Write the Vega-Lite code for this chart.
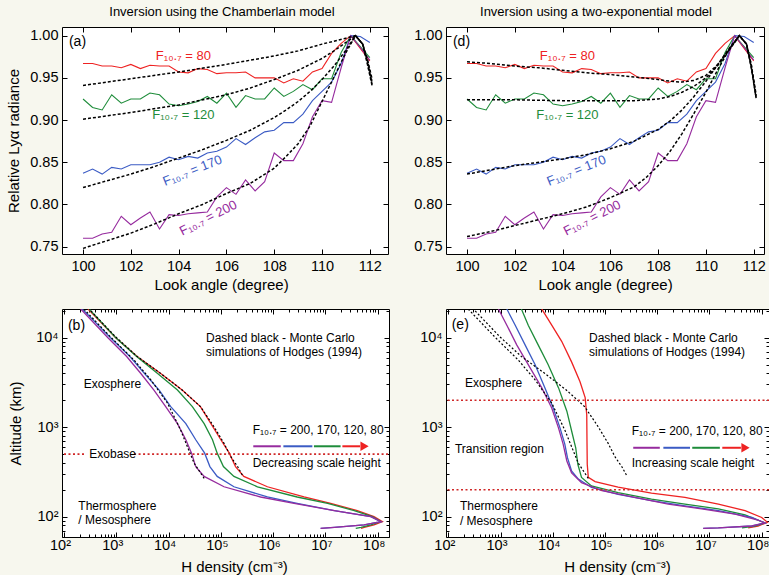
{
"$schema": "https://vega.github.io/schema/vega-lite/v6.json",
"background": "#f7f7ee",
"padding": {"left": 6, "top": 5, "right": 0, "bottom": 0},
"bounds": "flush",
"columns": 2,
"spacing": {"row": 55, "column": 57},
"config": {
  "font": "Liberation Sans",
  "view": {"fill": "white", "stroke": "black", "strokeWidth": 1},
  "axis": {"grid": false, "domain": false, "tickColor": "black", "tickSize": -5, "labelPadding": 9, "labelFont": "Liberation Sans", "labelFontSize": 14.5, "labelColor": "black", "titleFont": "Liberation Sans", "titleFontSize": 15, "titleFontWeight": "normal", "titleColor": "black", "labelFlush": false, "labelOverlap": false},
  "title": {"font": "Liberation Sans", "fontSize": 13, "fontWeight": "normal", "color": "black"},
  "text": {"font": "Liberation Sans"}
},
"datasets": {
  "obs": [
{"a":100,"v":0.967,"f":80},{"a":100.4,"v":0.967,"f":80},{"a":100.8,"v":0.964,"f":80},{"a":101.2,"v":0.964,"f":80},{"a":101.6,"v":0.962,"f":80},{"a":102,"v":0.966,"f":80},{"a":102.4,"v":0.961,"f":80},{"a":102.8,"v":0.965,"f":80},{"a":103.2,"v":0.964,"f":80},{"a":103.6,"v":0.964,"f":80},{"a":104,"v":0.957,"f":80},{"a":104.4,"v":0.956,"f":80},{"a":104.8,"v":0.961,"f":80},{"a":105.2,"v":0.960,"f":80},{"a":105.6,"v":0.955,"f":80},{"a":106,"v":0.956,"f":80},{"a":106.4,"v":0.956,"f":80},{"a":106.8,"v":0.957,"f":80},{"a":107.2,"v":0.950,"f":80},{"a":107.6,"v":0.950,"f":80},{"a":108,"v":0.950,"f":80},{"a":108.4,"v":0.944,"f":80},{"a":108.8,"v":0.949,"f":80},{"a":109.2,"v":0.946,"f":80},{"a":109.6,"v":0.957,"f":80},{"a":110,"v":0.961,"f":80},{"a":110.4,"v":0.979,"f":80},{"a":110.8,"v":0.991,"f":80},{"a":111.2,"v":1.0,"f":80},{"a":111.6,"v":0.985,"f":80},{"a":112,"v":0.970,"f":80},
{"a":100,"v":0.925,"f":120},{"a":100.4,"v":0.915,"f":120},{"a":100.8,"v":0.912,"f":120},{"a":101.2,"v":0.930,"f":120},{"a":101.6,"v":0.920,"f":120},{"a":102,"v":0.925,"f":120},{"a":102.4,"v":0.925,"f":120},{"a":102.8,"v":0.932,"f":120},{"a":103.2,"v":0.930,"f":120},{"a":103.6,"v":0.919,"f":120},{"a":104,"v":0.917,"f":120},{"a":104.4,"v":0.919,"f":120},{"a":104.8,"v":0.922,"f":120},{"a":105.2,"v":0.928,"f":120},{"a":105.6,"v":0.920,"f":120},{"a":106,"v":0.932,"f":120},{"a":106.4,"v":0.915,"f":120},{"a":106.8,"v":0.929,"f":120},{"a":107.2,"v":0.925,"f":120},{"a":107.6,"v":0.925,"f":120},{"a":108,"v":0.938,"f":120},{"a":108.4,"v":0.928,"f":120},{"a":108.8,"v":0.934,"f":120},{"a":109.2,"v":0.942,"f":120},{"a":109.6,"v":0.936,"f":120},{"a":110,"v":0.949,"f":120},{"a":110.4,"v":0.949,"f":120},{"a":110.8,"v":0.980,"f":120},{"a":111.2,"v":1.0,"f":120},{"a":111.6,"v":0.987,"f":120},{"a":112,"v":0.974,"f":120},
{"a":100,"v":0.837,"f":170},{"a":100.4,"v":0.842,"f":170},{"a":100.8,"v":0.836,"f":170},{"a":101.2,"v":0.844,"f":170},{"a":101.6,"v":0.842,"f":170},{"a":102,"v":0.847,"f":170},{"a":102.4,"v":0.847,"f":170},{"a":102.8,"v":0.847,"f":170},{"a":103.2,"v":0.850,"f":170},{"a":103.6,"v":0.856,"f":170},{"a":104,"v":0.853,"f":170},{"a":104.4,"v":0.857,"f":170},{"a":104.8,"v":0.855,"f":170},{"a":105.2,"v":0.861,"f":170},{"a":105.6,"v":0.863,"f":170},{"a":106,"v":0.868,"f":170},{"a":106.4,"v":0.878,"f":170},{"a":106.8,"v":0.871,"f":170},{"a":107.2,"v":0.879,"f":170},{"a":107.6,"v":0.886,"f":170},{"a":108,"v":0.888,"f":170},{"a":108.4,"v":0.897,"f":170},{"a":108.8,"v":0.897,"f":170},{"a":109.2,"v":0.907,"f":170},{"a":109.6,"v":0.923,"f":170},{"a":110,"v":0.934,"f":170},{"a":110.4,"v":0.945,"f":170},{"a":110.8,"v":0.967,"f":170},{"a":111.2,"v":1.0,"f":170},{"a":111.6,"v":0.999,"f":170},{"a":112,"v":0.992,"f":170},
{"a":100,"v":0.760,"f":200},{"a":100.4,"v":0.760,"f":200},{"a":100.8,"v":0.765,"f":200},{"a":101.2,"v":0.767,"f":200},{"a":101.6,"v":0.786,"f":200},{"a":102,"v":0.776,"f":200},{"a":102.4,"v":0.784,"f":200},{"a":102.8,"v":0.791,"f":200},{"a":103.2,"v":0.771,"f":200},{"a":103.6,"v":0.788,"f":200},{"a":104,"v":0.787,"f":200},{"a":104.4,"v":0.789,"f":200},{"a":104.8,"v":0.790,"f":200},{"a":105.2,"v":0.791,"f":200},{"a":105.6,"v":0.809,"f":200},{"a":106,"v":0.820,"f":200},{"a":106.4,"v":0.812,"f":200},{"a":106.8,"v":0.829,"f":200},{"a":107.2,"v":0.816,"f":200},{"a":107.6,"v":0.827,"f":200},{"a":108,"v":0.861,"f":200},{"a":108.4,"v":0.852,"f":200},{"a":108.8,"v":0.852,"f":200},{"a":109.2,"v":0.872,"f":200},{"a":109.6,"v":0.904,"f":200},{"a":110,"v":0.923,"f":200},{"a":110.4,"v":0.921,"f":200},{"a":110.8,"v":0.962,"f":200},{"a":111.2,"v":1.0,"f":200},{"a":111.6,"v":0.986,"f":200},{"a":112,"v":0.971,"f":200}
  ],
  "fitA": [
{"a":100,"v":0.941,"f":80},{"a":102,"v":0.949,"f":80},{"a":104,"v":0.957,"f":80},{"a":106,"v":0.966,"f":80},{"a":108,"v":0.976,"f":80},{"a":109,"v":0.982,"f":80},{"a":110,"v":0.990,"f":80},{"a":111,"v":0.997,"f":80},{"a":111.4,"v":1.0,"f":80},{"a":111.7,"v":0.99,"f":80},{"a":111.9,"v":0.972,"f":80},{"a":112.1,"v":0.948,"f":80},
{"a":100,"v":0.901,"f":120},{"a":102,"v":0.909,"f":120},{"a":104,"v":0.918,"f":120},{"a":106,"v":0.930,"f":120},{"a":107,"v":0.938,"f":120},{"a":108,"v":0.948,"f":120},{"a":109,"v":0.959,"f":120},{"a":110,"v":0.973,"f":120},{"a":110.5,"v":0.982,"f":120},{"a":111,"v":0.992,"f":120},{"a":111.4,"v":1.0,"f":120},{"a":111.7,"v":0.99,"f":120},{"a":111.9,"v":0.97,"f":120},{"a":112.1,"v":0.944,"f":120},
{"a":100,"v":0.820,"f":170},{"a":101,"v":0.828,"f":170},{"a":102,"v":0.836,"f":170},{"a":103,"v":0.845,"f":170},{"a":104,"v":0.855,"f":170},{"a":105,"v":0.865,"f":170},{"a":106,"v":0.876,"f":170},{"a":107,"v":0.888,"f":170},{"a":108,"v":0.903,"f":170},{"a":108.5,"v":0.912,"f":170},{"a":109,"v":0.922,"f":170},{"a":109.5,"v":0.934,"f":170},{"a":110,"v":0.948,"f":170},{"a":110.5,"v":0.964,"f":170},{"a":111,"v":0.983,"f":170},{"a":111.4,"v":1.0,"f":170},{"a":111.7,"v":0.99,"f":170},{"a":111.9,"v":0.968,"f":170},{"a":112.1,"v":0.941,"f":170},
{"a":100,"v":0.748,"f":200},{"a":101,"v":0.757,"f":200},{"a":102,"v":0.766,"f":200},{"a":103,"v":0.777,"f":200},{"a":104,"v":0.789,"f":200},{"a":105,"v":0.800,"f":200},{"a":106,"v":0.813,"f":200},{"a":107,"v":0.825,"f":200},{"a":108,"v":0.843,"f":200},{"a":108.5,"v":0.857,"f":200},{"a":109,"v":0.872,"f":200},{"a":109.5,"v":0.893,"f":200},{"a":110,"v":0.922,"f":200},{"a":110.5,"v":0.951,"f":200},{"a":111,"v":0.980,"f":200},{"a":111.4,"v":1.0,"f":200},{"a":111.7,"v":0.99,"f":200},{"a":111.9,"v":0.966,"f":200},{"a":112.1,"v":0.940,"f":200}
  ],
  "fitD": [
{"a":100,"v":0.969,"f":80},{"a":101,"v":0.967,"f":80},{"a":102,"v":0.964,"f":80},{"a":103,"v":0.962,"f":80},{"a":104,"v":0.959,"f":80},{"a":105,"v":0.956,"f":80},{"a":106,"v":0.954,"f":80},{"a":107,"v":0.951,"f":80},{"a":108,"v":0.948,"f":80},{"a":108.5,"v":0.946,"f":80},{"a":109,"v":0.945,"f":80},{"a":109.5,"v":0.947,"f":80},{"a":110,"v":0.953,"f":80},{"a":110.5,"v":0.966,"f":80},{"a":111,"v":0.985,"f":80},{"a":111.4,"v":1.0,"f":80},{"a":111.7,"v":0.99,"f":80},{"a":111.9,"v":0.965,"f":80},{"a":112.1,"v":0.926,"f":80},
{"a":100,"v":0.924,"f":120},{"a":102,"v":0.924,"f":120},{"a":104,"v":0.923,"f":120},{"a":106,"v":0.923,"f":120},{"a":107,"v":0.923,"f":120},{"a":108,"v":0.925,"f":120},{"a":108.5,"v":0.928,"f":120},{"a":109,"v":0.933,"f":120},{"a":109.5,"v":0.940,"f":120},{"a":110,"v":0.950,"f":120},{"a":110.5,"v":0.965,"f":120},{"a":111,"v":0.984,"f":120},{"a":111.4,"v":1.0,"f":120},{"a":111.7,"v":0.99,"f":120},{"a":111.9,"v":0.965,"f":120},{"a":112.1,"v":0.93,"f":120},
{"a":100,"v":0.836,"f":170},{"a":101,"v":0.841,"f":170},{"a":102,"v":0.846,"f":170},{"a":103,"v":0.850,"f":170},{"a":104,"v":0.854,"f":170},{"a":105,"v":0.859,"f":170},{"a":106,"v":0.866,"f":170},{"a":107,"v":0.875,"f":170},{"a":108,"v":0.889,"f":170},{"a":108.5,"v":0.899,"f":170},{"a":109,"v":0.912,"f":170},{"a":109.5,"v":0.928,"f":170},{"a":110,"v":0.946,"f":170},{"a":110.5,"v":0.966,"f":170},{"a":111,"v":0.986,"f":170},{"a":111.4,"v":1.0,"f":170},{"a":111.7,"v":0.99,"f":170},{"a":111.9,"v":0.962,"f":170},{"a":112.1,"v":0.928,"f":170},
{"a":100,"v":0.762,"f":200},{"a":101,"v":0.768,"f":200},{"a":102,"v":0.775,"f":200},{"a":103,"v":0.782,"f":200},{"a":104,"v":0.789,"f":200},{"a":105,"v":0.797,"f":200},{"a":106,"v":0.808,"f":200},{"a":107,"v":0.821,"f":200},{"a":107.5,"v":0.832,"f":200},{"a":108,"v":0.846,"f":200},{"a":108.5,"v":0.863,"f":200},{"a":109,"v":0.884,"f":200},{"a":109.5,"v":0.908,"f":200},{"a":110,"v":0.933,"f":200},{"a":110.5,"v":0.960,"f":200},{"a":111,"v":0.985,"f":200},{"a":111.4,"v":1.0,"f":200},{"a":111.7,"v":0.99,"f":200},{"a":111.9,"v":0.962,"f":200},{"a":112.1,"v":0.926,"f":200}
  ],
  "labTop": [
{"a":104.2,"v":0.976,"f":80,"t":"F₁₀.₇ = 80"},
{"a":104.2,"v":0.906,"f":120,"t":"F₁₀.₇ = 120"},
{"a":104.58,"v":0.840,"f":170,"t":"F₁₀.₇ = 170"},
{"a":105.24,"v":0.784,"f":200,"t":"F₁₀.₇ = 200"}
  ],
  "densB": [
{"n":288,"alt":20900,"f":80},{"n":977,"alt":10000,"f":80},{"n":2510,"alt":6170,"f":80},{"n":7080,"alt":3980,"f":80},{"n":18200,"alt":2600,"f":80},{"n":40700,"alt":1700,"f":80},{"n":64600,"alt":1096,"f":80},{"n":100000,"alt":724,"f":80},{"n":145000,"alt":513,"f":80},{"n":191000,"alt":363,"f":80},{"n":275000,"alt":282,"f":80},{"n":776000,"alt":216,"f":80},{"n":3.9e6,"alt":166,"f":80},{"n":1.26e7,"alt":141,"f":80},{"n":4.07e7,"alt":117,"f":80},{"n":8.5e7,"alt":100,"f":80},{"n":1.23e8,"alt":88,"f":80},{"n":8.5e7,"alt":81,"f":80},{"n":5.5e7,"alt":76,"f":80},{"n":4.8e7,"alt":74,"f":80},
{"n":302,"alt":20900,"f":120},{"n":977,"alt":10000,"f":120},{"n":2450,"alt":6170,"f":120},{"n":6170,"alt":3980,"f":120},{"n":14800,"alt":2600,"f":120},{"n":28500,"alt":1700,"f":120},{"n":47900,"alt":1096,"f":120},{"n":69200,"alt":724,"f":120},{"n":85100,"alt":513,"f":120},{"n":112000,"alt":363,"f":120},{"n":178000,"alt":282,"f":120},{"n":501000,"alt":216,"f":120},{"n":2.88e6,"alt":166,"f":120},{"n":1.1e7,"alt":141,"f":120},{"n":3.55e7,"alt":117,"f":120},{"n":7.9e7,"alt":100,"f":120},{"n":1.15e8,"alt":88,"f":120},{"n":7.4e7,"alt":81,"f":120},{"n":4.8e7,"alt":76,"f":120},{"n":3.8e7,"alt":74,"f":120},
{"n":224,"alt":20900,"f":170},{"n":776,"alt":10000,"f":170},{"n":1820,"alt":6170,"f":170},{"n":3470,"alt":3980,"f":170},{"n":6610,"alt":2600,"f":170},{"n":11000,"alt":1700,"f":170},{"n":21400,"alt":1096,"f":170},{"n":33100,"alt":724,"f":170},{"n":49000,"alt":513,"f":170},{"n":61700,"alt":363,"f":170},{"n":85100,"alt":282,"f":170},{"n":178000,"alt":216,"f":170},{"n":776000,"alt":166,"f":170},{"n":2.88e6,"alt":141,"f":170},{"n":1.48e7,"alt":117,"f":170},{"n":7.4e7,"alt":100,"f":170},{"n":1.15e8,"alt":88,"f":170},{"n":5.5e7,"alt":81,"f":170},{"n":1.48e7,"alt":76,"f":170},{"n":8.1e6,"alt":74,"f":170},
{"n":209,"alt":20900,"f":200},{"n":692,"alt":10000,"f":200},{"n":1580,"alt":6170,"f":200},{"n":2950,"alt":3980,"f":200},{"n":5250,"alt":2600,"f":200},{"n":8810,"alt":1700,"f":200},{"n":14800,"alt":1096,"f":200},{"n":21400,"alt":724,"f":200},{"n":27500,"alt":513,"f":200},{"n":33100,"alt":363,"f":200},{"n":47900,"alt":282,"f":200},{"n":115000,"alt":216,"f":200},{"n":575000,"alt":166,"f":200},{"n":2.51e6,"alt":141,"f":200},{"n":1.48e7,"alt":117,"f":200},{"n":7.4e7,"alt":100,"f":200},{"n":1.15e8,"alt":88,"f":200},{"n":5.5e7,"alt":81,"f":200},{"n":1.48e7,"alt":76,"f":200},{"n":8.1e6,"alt":74,"f":200}
  ],
  "densE": [
{"n":6170,"alt":20900,"f":80},{"n":9550,"alt":13800,"f":80},{"n":14800,"alt":9120,"f":80},{"n":22900,"alt":5370,"f":80},{"n":33100,"alt":3240,"f":80},{"n":41700,"alt":2140,"f":80},{"n":44700,"alt":1380,"f":80},{"n":45200,"alt":692,"f":80},{"n":45700,"alt":385,"f":80},{"n":47900,"alt":275,"f":80},{"n":64600,"alt":247,"f":80},{"n":178000,"alt":214,"f":80},{"n":776000,"alt":183,"f":80},{"n":3.39e6,"alt":164,"f":80},{"n":1.48e7,"alt":138,"f":80},{"n":4.8e7,"alt":117,"f":80},{"n":1.0e8,"alt":98,"f":80},{"n":1.29e8,"alt":86.5,"f":80},{"n":8.5e7,"alt":78.7,"f":80},{"n":5.5e7,"alt":74.8,"f":80},
{"n":2510,"alt":20900,"f":120},{"n":3390,"alt":13800,"f":120},{"n":5250,"alt":8320,"f":120},{"n":8130,"alt":5010,"f":120},{"n":12900,"alt":2750,"f":120},{"n":18600,"alt":1510,"f":120},{"n":22900,"alt":912,"f":120},{"n":27500,"alt":589,"f":120},{"n":30200,"alt":385,"f":120},{"n":35500,"alt":275,"f":120},{"n":55000,"alt":221,"f":120},{"n":178000,"alt":186,"f":120},{"n":776000,"alt":157,"f":120},{"n":3.39e6,"alt":138,"f":120},{"n":1.48e7,"alt":122,"f":120},{"n":4.8e7,"alt":105,"f":120},{"n":1.15e8,"alt":85,"f":120},{"n":7.4e7,"alt":78.7,"f":120},{"n":4.2e7,"alt":74.8,"f":120},
{"n":1320,"alt":20900,"f":170},{"n":1910,"alt":13800,"f":170},{"n":2950,"alt":8320,"f":170},{"n":4570,"alt":5010,"f":170},{"n":7080,"alt":2750,"f":170},{"n":10200,"alt":1640,"f":170},{"n":13800,"alt":977,"f":170},{"n":17000,"alt":646,"f":170},{"n":19100,"alt":457,"f":170},{"n":22900,"alt":324,"f":170},{"n":30900,"alt":263,"f":170},{"n":55000,"alt":212,"f":170},{"n":178000,"alt":178,"f":170},{"n":776000,"alt":151,"f":170},{"n":3.39e6,"alt":132,"f":170},{"n":1.48e7,"alt":117,"f":170},{"n":6.5e7,"alt":98,"f":170},{"n":1.15e8,"alt":85,"f":170},{"n":6.5e7,"alt":78.7,"f":170},{"n":1.48e7,"alt":74.8,"f":170},{"n":7.6e6,"alt":74.2,"f":170},
{"n":912,"alt":20900,"f":200},{"n":1320,"alt":13800,"f":200},{"n":2040,"alt":8320,"f":200},{"n":3390,"alt":5010,"f":200},{"n":6170,"alt":2750,"f":200},{"n":9550,"alt":1640,"f":200},{"n":12900,"alt":977,"f":200},{"n":15800,"alt":646,"f":200},{"n":18600,"alt":419,"f":200},{"n":22900,"alt":309,"f":200},{"n":35500,"alt":240,"f":200},{"n":87100,"alt":195,"f":200},{"n":372000,"alt":164,"f":200},{"n":1.62e6,"alt":138,"f":200},{"n":7.08e6,"alt":122,"f":200},{"n":3.09e7,"alt":107,"f":200},{"n":8.5e7,"alt":91.8,"f":200},{"n":1.15e8,"alt":85,"f":200},{"n":6.5e7,"alt":78.7,"f":200},{"n":1.48e7,"alt":74.8,"f":200},{"n":7.6e6,"alt":74.2,"f":200}
  ],
  "mc": [
{"n":240,"alt":20900,"f":200},{"n":776,"alt":10200,"f":200},{"n":2190,"alt":5620,"f":200},{"n":4570,"alt":3390,"f":200},{"n":9550,"alt":1860,"f":200},{"n":17000,"alt":930,"f":200},{"n":22900,"alt":606,"f":200},{"n":30900,"alt":395,"f":200},{"n":47900,"alt":268,"f":200},
{"n":302,"alt":20900,"f":80},{"n":977,"alt":10200,"f":80},{"n":2510,"alt":6170,"f":80},{"n":7080,"alt":3980,"f":80},{"n":18200,"alt":2600,"f":80},{"n":40700,"alt":1700,"f":80},{"n":74100,"alt":1010,"f":80},{"n":115000,"alt":660,"f":80},{"n":155000,"alt":468,"f":80},{"n":209000,"alt":363,"f":80},{"n":257000,"alt":292,"f":80}
  ],
  "notesB": [
{"n":52000,"alt":9960,"t":"Dashed black - Monte Carlo"},
{"n":52000,"alt":6870,"t":"simulations of Hodges (1994)"},
{"n":238,"alt":3006,"t":"Exosphere"},
{"n":305,"alt":499,"t":"Exobase"},
{"n":188,"alt":131.6,"t":"Thermosphere"},
{"n":188,"alt":91.8,"t":"/ Mesosphere"},
{"n":406000,"alt":923,"t":"F₁₀.₇ = 200, 170, 120, 80"},
{"n":406000,"alt":399,"t":"Decreasing scale height"}
  ],
  "notesE": [
{"n":49400,"alt":10000,"t":"Dashed black - Monte Carlo"},
{"n":49400,"alt":6870,"t":"simulations of Hodges (1994)"},
{"n":208,"alt":3113,"t":"Exosphere"},
{"n":134,"alt":574,"t":"Transition region"},
{"n":167,"alt":130,"t":"Thermosphere"},
{"n":167,"alt":90,"t":"/ Mesosphere"},
{"n":324000,"alt":903,"t":"F₁₀.₇ = 200, 170, 120, 80"},
{"n":324000,"alt":402,"t":"Increasing scale height"}
  ],
  "legB": [
{"n":417000,"n2":1.40e6,"alt":612,"f":200},{"n":1.57e6,"n2":5.62e6,"alt":612,"f":170},{"n":6.03e6,"n2":1.95e7,"alt":612,"f":120},{"n":2.11e7,"n2":4.6e7,"alt":612,"f":80}
  ],
  "legE": [
{"n":347000,"n2":1.12e6,"alt":589,"f":200},{"n":1.31e6,"n2":4.24e6,"alt":589,"f":170},{"n":4.68e6,"n2":1.58e7,"alt":589,"f":120},{"n":1.76e7,"n2":4.0e7,"alt":589,"f":80}
  ]
},
"concat": [
{
  "width": 326, "height": 227,
  "title": {"text": "Inversion using the Chamberlain model", "offset": 8, "dx": -3},
  "resolve": {"axis": {"x": "independent", "y": "independent"}},
  "layer": [
    {"data": {"name": "obs"}, "mark": {"type": "line", "strokeWidth": 1.1, "clip": true},
     "encoding": {
       "x": {"field": "a", "type": "quantitative", "title": "Look angle (degree)", "scale": {"domain": [99.12, 112.76], "nice": false, "zero": false}, "axis": {"values": [100,102,104,106,108,110,112], "labelPadding": 10, "titlePadding": 5, "titleX": 159}},
       "y": {"field": "v", "type": "quantitative", "title": "Relative Lyα radiance", "scale": {"domain": [0.7413, 1.0103], "nice": false, "zero": false}, "axis": {"values": [0.75,0.8,0.85,0.9,0.95,1.0], "format": ".2f", "titlePadding": 8}},
       "color": {"field": "f", "type": "nominal", "scale": {"domain": [80,120,170,200], "range": ["#ee2222","#1e8c3a","#3b5bc4","#962b9e"]}, "legend": null}
     }},
    {"data": {"name": "fitA"}, "mark": {"type": "line", "color": "black", "strokeDash": [3,2], "strokeWidth": 1.5, "clip": true},
     "encoding": {"x": {"field": "a", "type": "quantitative", "axis": {"orient": "top", "labels": false, "title": null, "values": [100,102,104,106,108,110,112]}}, "y": {"field": "v", "type": "quantitative", "axis": {"orient": "right", "labels": false, "title": null, "values": [0.75,0.8,0.85,0.9,0.95,1.0]}}, "detail": {"field": "f"}}},
    {"data": {"name": "labTop"}, "transform": [{"filter": "datum.f <= 120"}], "mark": {"type": "text", "fontSize": 13, "align": "center", "baseline": "middle"},
     "encoding": {"x": {"field": "a", "type": "quantitative", "axis": null}, "y": {"field": "v", "type": "quantitative", "axis": null}, "text": {"field": "t"}, "color": {"field": "f", "type": "nominal"}}},
    {"data": {"name": "labTop"}, "transform": [{"filter": "datum.f == 170"}], "mark": {"type": "text", "fontSize": 13, "align": "center", "baseline": "middle", "angle": 338},
     "encoding": {"x": {"field": "a", "type": "quantitative", "axis": null}, "y": {"field": "v", "type": "quantitative", "axis": null}, "text": {"field": "t"}, "color": {"field": "f", "type": "nominal"}}},
    {"data": {"name": "labTop"}, "transform": [{"filter": "datum.f == 200"}], "mark": {"type": "text", "fontSize": 13, "align": "center", "baseline": "middle", "angle": 333},
     "encoding": {"x": {"field": "a", "type": "quantitative", "axis": null}, "y": {"field": "v", "type": "quantitative", "axis": null}, "text": {"field": "t"}, "color": {"field": "f", "type": "nominal"}}},
    {"data": {"values": [{"a": 99.41, "v": 0.9925, "t": "(a)"}]}, "mark": {"type": "text", "fontSize": 14, "align": "left", "baseline": "middle", "color": "black"},
     "encoding": {"x": {"field": "a", "type": "quantitative", "axis": null}, "y": {"field": "v", "type": "quantitative", "axis": null}, "text": {"field": "t"}}}
  ]
},
{
  "width": 318, "height": 227,
  "title": {"text": "Inversion using a two-exponential model", "offset": 8, "dx": -9},
  "resolve": {"axis": {"x": "independent", "y": "independent"}},
  "layer": [
    {"data": {"name": "obs"}, "mark": {"type": "line", "strokeWidth": 1.1, "clip": true},
     "encoding": {
       "x": {"field": "a", "type": "quantitative", "title": "Look angle (degree)", "scale": {"domain": [99.12, 112.43], "nice": false, "zero": false}, "axis": {"values": [100,102,104,106,108,110,112], "labelPadding": 10, "titlePadding": 5}},
       "y": {"field": "v", "type": "quantitative", "title": null, "scale": {"domain": [0.7413, 1.0103], "nice": false, "zero": false}, "axis": {"values": [0.75,0.8,0.85,0.9,0.95,1.0], "format": ".2f"}},
       "color": {"field": "f", "type": "nominal", "scale": {"domain": [80,120,170,200], "range": ["#ee2222","#1e8c3a","#3b5bc4","#962b9e"]}, "legend": null}
     }},
    {"data": {"name": "fitD"}, "mark": {"type": "line", "color": "black", "strokeDash": [3,2], "strokeWidth": 1.5, "clip": true},
     "encoding": {"x": {"field": "a", "type": "quantitative", "axis": {"orient": "top", "labels": false, "title": null, "values": [100,102,104,106,108,110,112]}}, "y": {"field": "v", "type": "quantitative", "axis": {"orient": "right", "labels": false, "title": null, "values": [0.75,0.8,0.85,0.9,0.95,1.0]}}, "detail": {"field": "f"}}},
    {"data": {"name": "labTop"}, "transform": [{"filter": "datum.f <= 120"}], "mark": {"type": "text", "fontSize": 13, "align": "center", "baseline": "middle"},
     "encoding": {"x": {"field": "a", "type": "quantitative", "axis": null}, "y": {"field": "v", "type": "quantitative", "axis": null}, "text": {"field": "t"}, "color": {"field": "f", "type": "nominal"}}},
    {"data": {"name": "labTop"}, "transform": [{"filter": "datum.f == 170"}], "mark": {"type": "text", "fontSize": 13, "align": "center", "baseline": "middle", "angle": 338},
     "encoding": {"x": {"field": "a", "type": "quantitative", "axis": null}, "y": {"field": "v", "type": "quantitative", "axis": null}, "text": {"field": "t"}, "color": {"field": "f", "type": "nominal"}}},
    {"data": {"name": "labTop"}, "transform": [{"filter": "datum.f == 200"}], "mark": {"type": "text", "fontSize": 13, "align": "center", "baseline": "middle", "angle": 333},
     "encoding": {"x": {"field": "a", "type": "quantitative", "axis": null}, "y": {"field": "v", "type": "quantitative", "axis": null}, "text": {"field": "t"}, "color": {"field": "f", "type": "nominal"}}},
    {"data": {"values": [{"a": 99.41, "v": 0.9925, "t": "(d)"}]}, "mark": {"type": "text", "fontSize": 14, "align": "left", "baseline": "middle", "color": "black"},
     "encoding": {"x": {"field": "a", "type": "quantitative", "axis": null}, "y": {"field": "v", "type": "quantitative", "axis": null}, "text": {"field": "t"}}}
  ]
},
{
  "width": 327, "height": 228,
  "resolve": {"axis": {"x": "independent", "y": "independent"}},
  "layer": [
    {"data": {"name": "densB"}, "mark": {"type": "line", "strokeWidth": 1.3, "clip": true},
     "encoding": {
       "x": {"field": "n", "type": "quantitative", "title": "H density (cm⁻³)", "scale": {"type": "log", "domain": [91.6, 1.644e8], "nice": false},
             "axis": {"values": [100,200,300,400,500,600,700,800,900,1000,2000,3000,4000,5000,6000,7000,8000,9000,10000,20000,30000,40000,50000,60000,70000,80000,90000,100000,200000,300000,400000,500000,600000,700000,800000,900000,1000000,2000000,3000000,4000000,5000000,6000000,7000000,8000000,9000000,10000000,20000000,30000000,40000000,50000000,60000000,70000000,80000000,90000000,100000000],
                      "labelExpr": "abs(log(datum.value)/LN10 - round(log(datum.value)/LN10)) < 0.001 ? ['','','10²','10³','10⁴','10⁵','10⁶','10⁷','10⁸'][round(log(datum.value)/LN10)] : ''",
                      "tickSize": {"condition": {"test": "abs(log(datum.value)/LN10 - round(log(datum.value)/LN10)) < 0.001", "value": -5}, "value": -3},
                      "labelPadding": 6, "labelOffset": -4, "titlePadding": 6, "titleX": 172}},
       "y": {"field": "alt", "type": "quantitative", "title": "Altitude (km)", "scale": {"type": "log", "domain": [59.3, 20930], "nice": false},
             "axis": {"values": [60,70,80,90,100,200,300,400,500,600,700,800,900,1000,2000,3000,4000,5000,6000,7000,8000,9000,10000,20000],
                      "labelExpr": "abs(log(datum.value)/LN10 - round(log(datum.value)/LN10)) < 0.001 ? ['','','10²','10³','10⁴','10⁵'][round(log(datum.value)/LN10)] : ''",
                      "tickSize": {"condition": {"test": "abs(log(datum.value)/LN10 - round(log(datum.value)/LN10)) < 0.001", "value": -5}, "value": -3},
                      "titlePadding": 12}},
       "order": {"field": "alt", "type": "quantitative"},
       "color": {"field": "f", "type": "nominal", "scale": {"domain": [80,120,170,200], "range": ["#ee2222","#1e8c3a","#3b5bc4","#962b9e"]}, "legend": null}
     }},
    {"data": {"name": "mc"}, "mark": {"type": "line", "color": "black", "strokeDash": [2,2], "strokeWidth": 1.2, "clip": true},
     "encoding": {"x": {"field": "n", "type": "quantitative",
                        "axis": {"orient": "top", "labels": false, "title": null, "values": [100,200,300,400,500,600,700,800,900,1000,2000,3000,4000,5000,6000,7000,8000,9000,10000,20000,30000,40000,50000,60000,70000,80000,90000,100000,200000,300000,400000,500000,600000,700000,800000,900000,1000000,2000000,3000000,4000000,5000000,6000000,7000000,8000000,9000000,10000000,20000000,30000000,40000000,50000000,60000000,70000000,80000000,90000000,100000000],
                                 "tickSize": {"condition": {"test": "abs(log(datum.value)/LN10 - round(log(datum.value)/LN10)) < 0.001", "value": -5}, "value": -3}}},
                  "y": {"field": "alt", "type": "quantitative",
                        "axis": {"orient": "right", "labels": false, "title": null, "values": [60,70,80,90,100,200,300,400,500,600,700,800,900,1000,2000,3000,4000,5000,6000,7000,8000,9000,10000,20000],
                                 "tickSize": {"condition": {"test": "abs(log(datum.value)/LN10 - round(log(datum.value)/LN10)) < 0.001", "value": -5}, "value": -3}}},
                  "order": {"field": "alt", "type": "quantitative"}, "detail": {"field": "f"}}},
    {"data": {"values": [{"n": 100, "n2": 269, "alt": 500}, {"n": 2190, "n2": 1.644e8, "alt": 500}]}, "mark": {"type": "rule", "color": "#d02828", "strokeDash": [2,2.5], "strokeWidth": 1.6},
     "encoding": {"x": {"field": "n", "type": "quantitative", "axis": null}, "x2": {"field": "n2"}, "y": {"field": "alt", "type": "quantitative", "axis": null}}},
    {"data": {"name": "legB"}, "mark": {"type": "rule", "strokeWidth": 2},
     "encoding": {"x": {"field": "n", "type": "quantitative", "axis": null}, "x2": {"field": "n2"}, "y": {"field": "alt", "type": "quantitative", "axis": null}, "color": {"field": "f", "type": "nominal"}}},
    {"data": {"values": [{"n": 5.6e7, "alt": 612}]}, "mark": {"type": "point", "shape": "triangle-right", "filled": true, "color": "#ee2222", "size": 90, "opacity": 1},
     "encoding": {"x": {"field": "n", "type": "quantitative", "axis": null}, "y": {"field": "alt", "type": "quantitative", "axis": null}}},
    {"data": {"name": "notesB"}, "mark": {"type": "text", "fontSize": 12, "align": "left", "baseline": "middle", "color": "black"},
     "encoding": {"x": {"field": "n", "type": "quantitative", "axis": null}, "y": {"field": "alt", "type": "quantitative", "axis": null}, "text": {"field": "t"}}},
    {"data": {"values": [{"n": 119, "alt": 13650, "t": "(b)"}]}, "mark": {"type": "text", "fontSize": 14, "align": "left", "baseline": "middle", "color": "black"},
     "encoding": {"x": {"field": "n", "type": "quantitative", "axis": null}, "y": {"field": "alt", "type": "quantitative", "axis": null}, "text": {"field": "t"}}}
  ]
},
{
  "width": 323, "height": 228,
  "resolve": {"axis": {"x": "independent", "y": "independent"}},
  "layer": [
    {"data": {"name": "densE"}, "mark": {"type": "line", "strokeWidth": 1.3, "clip": true},
     "encoding": {
       "x": {"field": "n", "type": "quantitative", "title": "H density (cm⁻³)", "scale": {"type": "log", "domain": [90.3, 1.38e8], "nice": false},
             "axis": {"values": [100,200,300,400,500,600,700,800,900,1000,2000,3000,4000,5000,6000,7000,8000,9000,10000,20000,30000,40000,50000,60000,70000,80000,90000,100000,200000,300000,400000,500000,600000,700000,800000,900000,1000000,2000000,3000000,4000000,5000000,6000000,7000000,8000000,9000000,10000000,20000000,30000000,40000000,50000000,60000000,70000000,80000000,90000000,100000000],
                      "labelExpr": "abs(log(datum.value)/LN10 - round(log(datum.value)/LN10)) < 0.001 ? ['','','10²','10³','10⁴','10⁵','10⁶','10⁷','10⁸'][round(log(datum.value)/LN10)] : ''",
                      "tickSize": {"condition": {"test": "abs(log(datum.value)/LN10 - round(log(datum.value)/LN10)) < 0.001", "value": -5}, "value": -3},
                      "labelPadding": 6, "labelOffset": -4, "titlePadding": 6, "titleX": 171}},
       "y": {"field": "alt", "type": "quantitative", "title": null, "scale": {"type": "log", "domain": [59.3, 20930], "nice": false},
             "axis": {"values": [60,70,80,90,100,200,300,400,500,600,700,800,900,1000,2000,3000,4000,5000,6000,7000,8000,9000,10000,20000],
                      "labelExpr": "abs(log(datum.value)/LN10 - round(log(datum.value)/LN10)) < 0.001 ? ['','','10²','10³','10⁴','10⁵'][round(log(datum.value)/LN10)] : ''",
                      "tickSize": {"condition": {"test": "abs(log(datum.value)/LN10 - round(log(datum.value)/LN10)) < 0.001", "value": -5}, "value": -3}}},
       "order": {"field": "alt", "type": "quantitative"},
       "color": {"field": "f", "type": "nominal", "scale": {"domain": [80,120,170,200], "range": ["#ee2222","#1e8c3a","#3b5bc4","#962b9e"]}, "legend": null}
     }},
    {"data": {"name": "mc"}, "mark": {"type": "line", "color": "black", "strokeDash": [2,2], "strokeWidth": 1.2, "clip": true},
     "encoding": {"x": {"field": "n", "type": "quantitative",
                        "axis": {"orient": "top", "labels": false, "title": null, "values": [100,200,300,400,500,600,700,800,900,1000,2000,3000,4000,5000,6000,7000,8000,9000,10000,20000,30000,40000,50000,60000,70000,80000,90000,100000,200000,300000,400000,500000,600000,700000,800000,900000,1000000,2000000,3000000,4000000,5000000,6000000,7000000,8000000,9000000,10000000,20000000,30000000,40000000,50000000,60000000,70000000,80000000,90000000,100000000],
                                 "tickSize": {"condition": {"test": "abs(log(datum.value)/LN10 - round(log(datum.value)/LN10)) < 0.001", "value": -5}, "value": -3}}},
                  "y": {"field": "alt", "type": "quantitative",
                        "axis": {"orient": "right", "labels": false, "title": null, "values": [60,70,80,90,100,200,300,400,500,600,700,800,900,1000,2000,3000,4000,5000,6000,7000,8000,9000,10000,20000],
                                 "tickSize": {"condition": {"test": "abs(log(datum.value)/LN10 - round(log(datum.value)/LN10)) < 0.001", "value": -5}, "value": -3}}},
                  "order": {"field": "alt", "type": "quantitative"}, "detail": {"field": "f"}}},
    {"data": {"values": [{"alt": 200}, {"alt": 2000}]}, "mark": {"type": "rule", "color": "#d02828", "strokeDash": [2,2.5], "strokeWidth": 1.6},
     "encoding": {"y": {"field": "alt", "type": "quantitative", "axis": null}}},
    {"data": {"name": "legE"}, "mark": {"type": "rule", "strokeWidth": 2},
     "encoding": {"x": {"field": "n", "type": "quantitative", "axis": null}, "x2": {"field": "n2"}, "y": {"field": "alt", "type": "quantitative", "axis": null}, "color": {"field": "f", "type": "nominal"}}},
    {"data": {"values": [{"n": 4.9e7, "alt": 589}]}, "mark": {"type": "point", "shape": "triangle-right", "filled": true, "color": "#ee2222", "size": 90, "opacity": 1},
     "encoding": {"x": {"field": "n", "type": "quantitative", "axis": null}, "y": {"field": "alt", "type": "quantitative", "axis": null}}},
    {"data": {"name": "notesE"}, "mark": {"type": "text", "fontSize": 12, "align": "left", "baseline": "middle", "color": "black"},
     "encoding": {"x": {"field": "n", "type": "quantitative", "axis": null}, "y": {"field": "alt", "type": "quantitative", "axis": null}, "text": {"field": "t"}}},
    {"data": {"values": [{"n": 116, "alt": 13800, "t": "(e)"}]}, "mark": {"type": "text", "fontSize": 14, "align": "left", "baseline": "middle", "color": "black"},
     "encoding": {"x": {"field": "n", "type": "quantitative", "axis": null}, "y": {"field": "alt", "type": "quantitative", "axis": null}, "text": {"field": "t"}}}
  ]
}
]
}
